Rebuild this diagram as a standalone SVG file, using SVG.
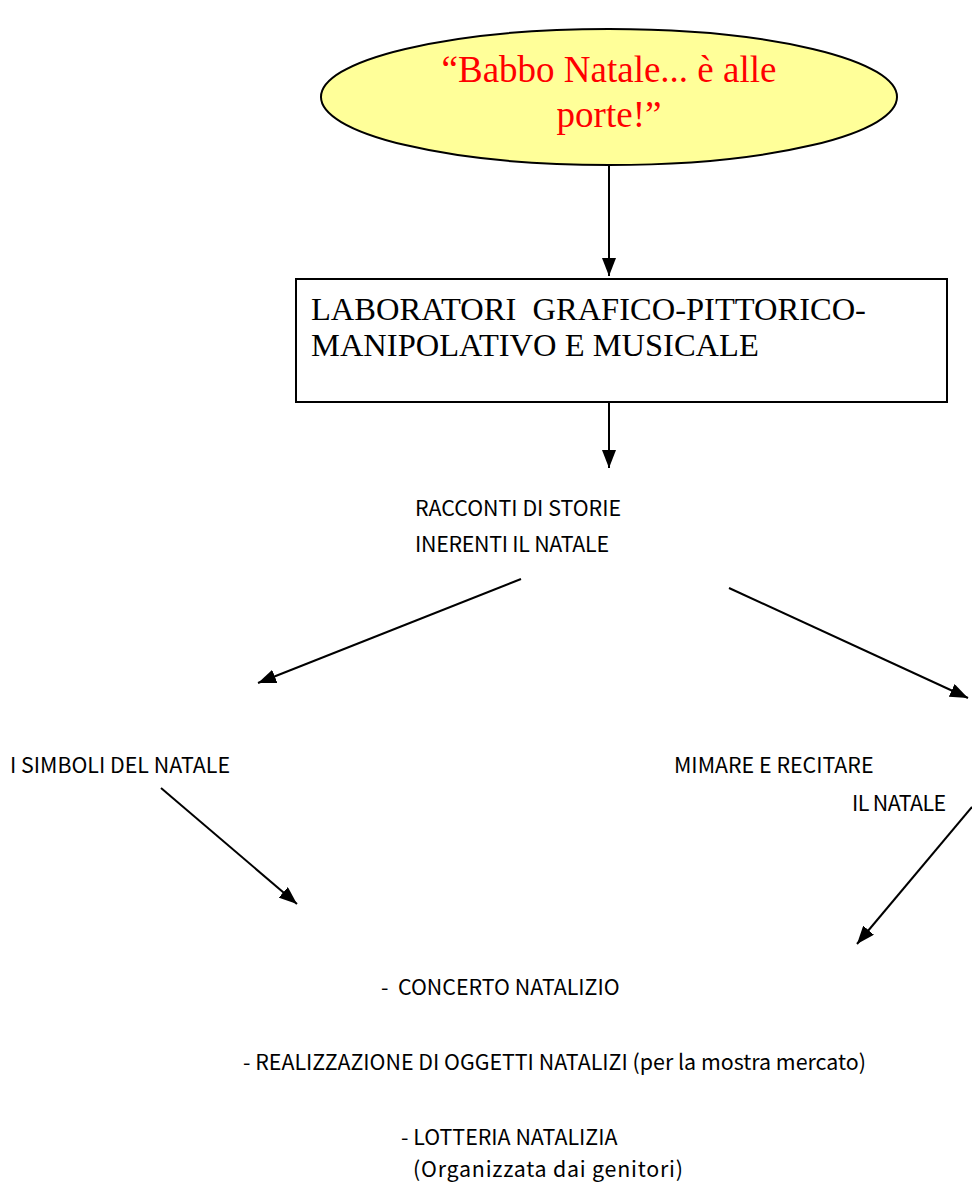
<svg xmlns="http://www.w3.org/2000/svg" width="972" height="1184" viewBox="0 0 972 1184">
<defs>
<marker id="ah" markerWidth="18" markerHeight="14" refX="18" refY="7" orient="auto" markerUnits="userSpaceOnUse">
<path d="M0,0 L18,7 L0,14 Z" fill="#000"/>
</marker>
<style>
.serif{font-family:"Liberation Serif","Times New Roman",serif;}
.sans{font-family:"Noto Sans CJK KR","Noto Sans",sans-serif;font-size:21.4px;fill:#000;}
.conn line{stroke:#000;stroke-width:2;marker-end:url(#ah);}
</style>
</defs>
<rect width="972" height="1184" fill="#fff"/>
<g id="title">
<ellipse cx="609" cy="97" rx="288" ry="68" fill="#FFFF99" stroke="#000" stroke-width="2"/>
<text class="serif" x="609" y="82" font-size="37" fill="#FF0000" text-anchor="middle">“Babbo Natale... è alle</text>
<text class="serif" x="609" y="127" font-size="37" fill="#FF0000" text-anchor="middle">porte!”</text>
</g>
<g id="laboratori">
<rect x="296" y="279" width="651" height="123" fill="#fff" stroke="#000" stroke-width="2"/>
<text class="serif" x="311" y="320" font-size="32.5" fill="#000" xml:space="preserve">LABORATORI  GRAFICO-PITTORICO-</text>
<text class="serif" x="311" y="356" font-size="32.5" fill="#000">MANIPOLATIVO E MUSICALE</text>
</g>
<g id="racconti">
<text class="sans" x="415" y="516">RACCONTI DI STORIE</text>
<text class="sans" x="415" y="552" textLength="194">INERENTI IL NATALE</text>
</g>
<g id="simboli">
<text class="sans" x="10" y="773">I SIMBOLI DEL NATALE</text>
</g>
<g id="mimare">
<text class="sans" x="674" y="773">MIMARE E RECITARE</text>
<text class="sans" x="852" y="811" textLength="94">IL NATALE</text>
</g>
<g id="attivita">
<text class="sans" x="381" y="995" xml:space="preserve">-  CONCERTO NATALIZIO</text>
<text class="sans" x="243" y="1070">- REALIZZAZIONE DI OGGETTI NATALIZI (per la mostra mercato)</text>
<text class="sans" x="401" y="1145">- LOTTERIA NATALIZIA</text>
<text class="sans" x="413" y="1177" textLength="270">(Organizzata dai genitori)</text>
</g>
<g id="connectors" class="conn">
<line x1="609" y1="165" x2="609" y2="276"/>
<line x1="609" y1="402" x2="609" y2="468"/>
<line x1="521" y1="579" x2="258" y2="683"/>
<line x1="729" y1="588" x2="968" y2="698"/>
<line x1="161" y1="788" x2="297" y2="904"/>
<line x1="972" y1="807" x2="857" y2="944"/>
</g>
</svg>
